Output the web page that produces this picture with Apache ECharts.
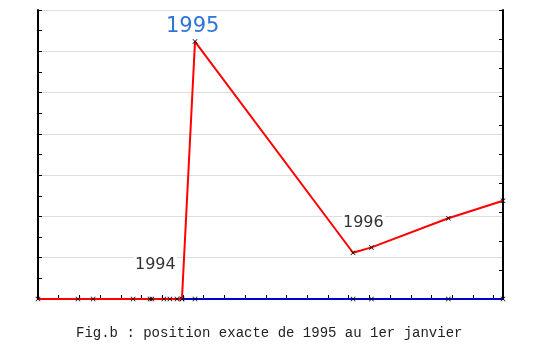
<!DOCTYPE html>
<html>
<head>
<meta charset="utf-8">
<script src="https://cdn.jsdelivr.net/npm/echarts@6/dist/echarts.min.js"></script>
<style>
html,body{margin:0;padding:0;background:#fff;}
#c{width:539px;height:356px;}
</style>
</head>
<body>
<div id="c"></div>
<script>
// x positions (in tick units, e.g. months) and values
var redX = [0, 1.93, 2.66, 4.59, 5.41, 5.50, 6.08, 6.37, 6.71, 6.95, 7.58, 15.21, 16.10, 19.81, 22.45];
var redY = [0, 0, 0, 0, 0, 0, 0, 0, 0, 0, 12.47, 2.24, 2.50, 3.91, 4.76];
var blueX = [6.95, 7.58, 15.21, 16.10, 19.81, 22.45];
var blueY = [0, 0, 0, 0, 0, 0];
var xMin = 0, xMax = 22.45;
var yLeftMax = 14, yRightMax = 10;
var labels = ['1995', '1994', '1996'];
var caption = 'Fig.b : position exacte de 1995 au 1er janvier';

function pairs(xs, ys) { return xs.map(function (x, i) { return [x, ys[i]]; }); }

var cross = 'path://M0,1L1,0L5,4L9,0L10,1L6,5L10,9L9,10L5,6L1,10L0,9L4,5Z';

var chart = echarts.init(document.getElementById('c'));
var axisLine = { show: true, onZero: false, lineStyle: { color: '#000', width: 2 } };
chart.setOption({
  animation: false,
  grid: { left: 38, top: 10, right: 36, bottom: 57 },
  xAxis: {
    type: 'value', min: xMin, max: xMax, interval: 1,
    axisLine: { show: true, onZero: false, lineStyle: { color: '#000', width: 1.5 } },
    axisTick: { show: true, inside: true, length: 4, lineStyle: { color: '#000', width: 1 } },
    axisLabel: { show: false },
    splitLine: { show: false }
  },
  yAxis: [{
    type: 'value', min: 0, max: yLeftMax, interval: 2, position: 'left',
    axisLine: axisLine,
    axisTick: { show: true, inside: true, length: 4, lineStyle: { color: '#000', width: 1 } },
    minorTick: { show: true, splitNumber: 2, length: 4, lineStyle: { color: '#000', width: 1 } },
    axisLabel: { show: false },
    splitLine: { show: true, lineStyle: { color: '#dddddd', width: 1 } }
  }, {
    type: 'value', min: 0, max: yRightMax, interval: 1, position: 'right',
    axisLine: axisLine,
    axisTick: { show: true, inside: true, length: 4, lineStyle: { color: '#000', width: 1 } },
    axisLabel: { show: false },
    splitLine: { show: false }
  }],
  series: [{
    type: 'line', yAxisIndex: 0, z: 3,
    data: pairs(blueX, blueY),
    lineStyle: { color: '#0000cc', width: 2 },
    symbol: cross, symbolSize: 5, showAllSymbol: true,
    itemStyle: { color: '#000', borderWidth: 0 }
  }, {
    type: 'line', yAxisIndex: 0, z: 4,
    data: pairs(redX, redY),
    lineStyle: { color: '#ff0000', width: 2 },
    symbol: cross, symbolSize: 5, showAllSymbol: true,
    itemStyle: { color: '#000', borderWidth: 0 }
  }],
  graphic: [
    { type: 'text', left: 166, top: 16, z: 10, style: { text: labels[0], font: '21px "DejaVu Sans"', fill: '#2f74d8' } },
    { type: 'text', left: 134, top: 256, z: 10, style: { text: labels[1], font: '16px "DejaVu Sans"', fill: '#333', backgroundColor: '#fff', padding: [1, 1, 1, 1] } },
    { type: 'text', left: 342, top: 214, z: 10, style: { text: labels[2], font: '16px "DejaVu Sans"', fill: '#333', backgroundColor: '#fff', padding: [1, 1, 1, 1] } },
    { type: 'text', left: 76, top: 326, style: { text: caption, font: '14px "Liberation Mono"', fill: '#222' } }
  ]
});
</script>
</body>
</html>
